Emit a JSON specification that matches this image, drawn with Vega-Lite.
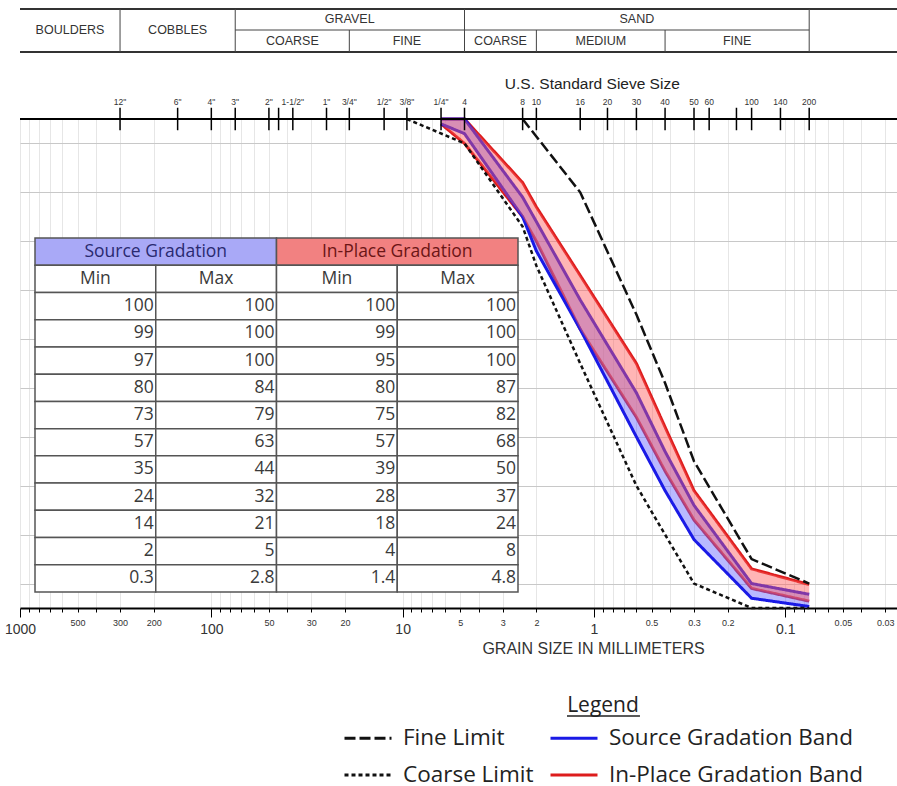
{
  "$schema": "https://vega.github.io/schema/vega-lite/v6.json",
  "width": 877,
  "height": 489,
  "autosize": {"type": "none"},
  "padding": {"left": 20, "top": 119, "right": 0, "bottom": 178},
  "background": "white",
  "config": {"view": {"stroke": null}, "font": "Liberation Sans"},
  "datasets": {
    "sieves": [
      {"sieve": "3/8\"", "mm": 9.5, "srcMin": 100, "srcMax": 100, "ipMin": 100, "ipMax": 100},
      {"sieve": "1/4\"", "mm": 6.3, "srcMin": 99, "srcMax": 100, "ipMin": 99, "ipMax": 100},
      {"sieve": "#4", "mm": 4.75, "srcMin": 97, "srcMax": 100, "ipMin": 95, "ipMax": 100},
      {"sieve": "#8", "mm": 2.36, "srcMin": 80, "srcMax": 84, "ipMin": 80, "ipMax": 87},
      {"sieve": "#10", "mm": 2.0, "srcMin": 73, "srcMax": 79, "ipMin": 75, "ipMax": 82},
      {"sieve": "#16", "mm": 1.18, "srcMin": 57, "srcMax": 63, "ipMin": 57, "ipMax": 68},
      {"sieve": "#30", "mm": 0.6, "srcMin": 35, "srcMax": 44, "ipMin": 39, "ipMax": 50},
      {"sieve": "#40", "mm": 0.425, "srcMin": 24, "srcMax": 32, "ipMin": 28, "ipMax": 37},
      {"sieve": "#50", "mm": 0.3, "srcMin": 14, "srcMax": 21, "ipMin": 18, "ipMax": 24},
      {"sieve": "#100", "mm": 0.15, "srcMin": 2, "srcMax": 5, "ipMin": 4, "ipMax": 8},
      {"sieve": "#200", "mm": 0.075, "srcMin": 0.3, "srcMax": 2.8, "ipMin": 1.4, "ipMax": 4.8}
    ],
    "limits": [
      {"series": "Fine Limit", "mm": 2.36, "pct": 100},
      {"series": "Fine Limit", "mm": 1.18, "pct": 85},
      {"series": "Fine Limit", "mm": 0.6, "pct": 60},
      {"series": "Fine Limit", "mm": 0.425, "pct": 46},
      {"series": "Fine Limit", "mm": 0.3, "pct": 30},
      {"series": "Fine Limit", "mm": 0.15, "pct": 10},
      {"series": "Fine Limit", "mm": 0.075, "pct": 5},
      {"series": "Coarse Limit", "mm": 9.5, "pct": 100},
      {"series": "Coarse Limit", "mm": 4.75, "pct": 95},
      {"series": "Coarse Limit", "mm": 2.36, "pct": 78},
      {"series": "Coarse Limit", "mm": 2.0, "pct": 70},
      {"series": "Coarse Limit", "mm": 1.18, "pct": 50},
      {"series": "Coarse Limit", "mm": 0.6, "pct": 25},
      {"series": "Coarse Limit", "mm": 0.425, "pct": 15},
      {"series": "Coarse Limit", "mm": 0.3, "pct": 5},
      {"series": "Coarse Limit", "mm": 0.15, "pct": 0},
      {"series": "Coarse Limit", "mm": 0.075, "pct": 0}
    ],
    "sieveMarks": [
      {"label": "12\"", "mm": 300}, {"label": "6\"", "mm": 150}, {"label": "4\"", "mm": 100},
      {"label": "3\"", "mm": 75}, {"label": "2\"", "mm": 50}, {"label": "", "mm": 44.5},
      {"label": "1-1/2\"", "mm": 37.5}, {"label": "1\"", "mm": 25}, {"label": "3/4\"", "mm": 19},
      {"label": "1/2\"", "mm": 12.5}, {"label": "3/8\"", "mm": 9.5}, {"label": "1/4\"", "mm": 6.3},
      {"label": "4", "mm": 4.75}, {"label": "8", "mm": 2.36}, {"label": "10", "mm": 2.0},
      {"label": "16", "mm": 1.18}, {"label": "20", "mm": 0.85}, {"label": "30", "mm": 0.6},
      {"label": "40", "mm": 0.425}, {"label": "50", "mm": 0.3}, {"label": "60", "mm": 0.25},
      {"label": "", "mm": 0.18}, {"label": "100", "mm": 0.15}, {"label": "140", "mm": 0.106},
      {"label": "200", "mm": 0.075}
    ]
  },
  "layer": [
    {
      "layer": [
        {
          "data": {"name": "sieves"},
          "transform": [{"filter": "datum.mm < 9"}, {"fold": ["ipMin", "ipMax"], "as": ["bound", "pct"]}],
          "mark": {"type": "line", "strokeWidth": 3},
          "encoding": {
            "x": {
              "field": "mm", "type": "quantitative",
              "scale": {"type": "log", "domain": [1000, 0.02607], "nice": false},
              "axis": {
                "values": [1000, 900, 800, 700, 600, 500, 400, 300, 200, 100, 90, 80, 70, 60, 50, 40, 30, 20, 10, 9, 8, 7, 6, 5, 4, 3, 2, 1, 0.9, 0.8, 0.7, 0.6, 0.5, 0.4, 0.3, 0.2, 0.1, 0.09, 0.08, 0.07, 0.06, 0.05, 0.04, 0.03],
                "labelExpr": "indexof([1000,500,300,200,100,50,30,20,10,5,3,2,1,0.5,0.3,0.2,0.1,0.05,0.03], datum.value) >= 0 ? format(datum.value, '~g') : ''",
                "labelOverlap": false, "labelBound": false, "labelFlush": false,
                "grid": true, "gridColor": "#e6e6e6", "gridWidth": 1,
                "domain": true, "domainColor": "#000000", "domainWidth": 2,
                "ticks": true, "tickColor": "#000000", "tickWidth": 1,
                "tickSize": {"condition": {"test": "indexof([1000,100,10,1,0.1], datum.value) >= 0", "value": 9}, "value": 4},
                "labelFontSize": {"condition": {"test": "indexof([1000,100,10,1,0.1], datum.value) >= 0", "value": 14}, "value": 9},
                "labelPadding": {"condition": {"test": "indexof([1000,100,10,1,0.1], datum.value) >= 0", "value": 5}, "value": 6},
                "labelColor": "#333333", "labelFont": "Liberation Sans",
                "title": "GRAIN SIZE IN MILLIMETERS",
                "titleFont": "Liberation Sans", "titleFontSize": 16, "titleFontWeight": "normal",
                "titleColor": "#333333", "titleX": 573, "titleY": 40, "titleAlign": "center", "titleBaseline": "middle"
              }
            },
            "y": {
              "field": "pct", "type": "quantitative",
              "scale": {"domain": [0, 100], "nice": false, "zero": false},
              "axis": {
                "values": [5, 15, 25, 35, 45, 55, 65, 75, 85, 95],
                "grid": true, "gridColor": "#c8c8c8", "gridWidth": 1,
                "labels": false, "ticks": false, "domain": false, "title": null
              }
            },
            "detail": {"field": "bound"},
            "color": {"datum": "In-Place Gradation Band"},
            "strokeDash": {"datum": "In-Place Gradation Band"}
          }
        },
        {
          "data": {"name": "sieves"},
          "transform": [{"filter": "datum.mm < 9"}],
          "mark": {"type": "area", "color": "#6464ff", "opacity": 0.45},
          "encoding": {
            "x": {"field": "mm", "type": "quantitative"},
            "y": {"field": "srcMin", "type": "quantitative"},
            "y2": {"field": "srcMax"}
          }
        },
        {
          "data": {"name": "sieves"},
          "transform": [{"filter": "datum.mm < 9"}, {"fold": ["srcMin", "srcMax"], "as": ["bound", "pct"]}],
          "mark": {"type": "line", "strokeWidth": 3},
          "encoding": {
            "x": {"field": "mm", "type": "quantitative"},
            "y": {"field": "pct", "type": "quantitative"},
            "detail": {"field": "bound"},
            "color": {"datum": "Source Gradation Band"},
            "strokeDash": {"datum": "Source Gradation Band"}
          }
        },
        {
          "data": {"name": "sieves"},
          "transform": [{"filter": "datum.mm < 9"}],
          "mark": {"type": "area", "color": "#ff5a5a", "opacity": 0.45},
          "encoding": {
            "x": {"field": "mm", "type": "quantitative"},
            "y": {"field": "ipMin", "type": "quantitative"},
            "y2": {"field": "ipMax"}
          }
        },
        {
          "data": {"name": "limits"},
          "mark": {"type": "line", "strokeWidth": 2.5},
          "encoding": {
            "x": {"field": "mm", "type": "quantitative"},
            "y": {"field": "pct", "type": "quantitative"},
            "color": {
              "field": "series", "type": "nominal",
              "scale": {"domain": ["Fine Limit", "Coarse Limit", "Source Gradation Band", "In-Place Gradation Band"], "range": ["#111111", "#111111", "#1a1ae6", "#dd1c1c"]},
              "legend": {
                "orient": "none", "legendX": 323, "legendY": 576, "direction": "vertical", "columns": 2,
                "title": "Legend", "titleAnchor": "middle", "titleFont": "Open Sans", "titleFontSize": 21,
                "titleFontWeight": "normal", "titleColor": "#222222", "titlePadding": -3,
                "labelFont": "Open Sans", "labelFontSize": 22.5, "labelColor": "#222222", "labelLimit": 400,
                "symbolType": "stroke", "symbolSize": 2209, "symbolStrokeWidth": 3,
                "labelOffset": 10, "columnPadding": 10, "rowPadding": -14
              }
            },
            "strokeDash": {
              "field": "series", "type": "nominal",
              "scale": {"domain": ["Fine Limit", "Coarse Limit", "Source Gradation Band", "In-Place Gradation Band"], "range": [[11, 4], [4, 3], [1, 0], [1, 0]]}
            }
          }
        },
        {
          "data": {"values": [{}]},
          "mark": {"type": "rule", "color": "#000000", "strokeWidth": 2},
          "encoding": {"y": {"datum": 100}}
        },
        {
          "data": {"name": "sieveMarks"},
          "mark": {"type": "rule", "color": "#000000", "strokeWidth": 1.5},
          "encoding": {
            "x": {"field": "mm", "type": "quantitative"},
            "y": {"datum": 97.7},
            "y2": {"datum": 102.3}
          }
        },
        {
          "data": {"name": "sieveMarks"},
          "mark": {"type": "text", "fontSize": 8.5, "color": "#333333", "baseline": "middle", "font": "Liberation Sans"},
          "encoding": {
            "x": {"field": "mm", "type": "quantitative"},
            "y": {"datum": 103.5},
            "text": {"field": "label"}
          }
        },
        {
          "data": {"values": [{"t": "U.S. Standard Sieve Size", "mm": 1.02}]},
          "mark": {"type": "text", "fontSize": 15.5, "color": "#222222", "baseline": "middle", "font": "Liberation Sans"},
          "encoding": {
            "x": {"field": "mm", "type": "quantitative"},
            "y": {"datum": 107.2},
            "text": {"field": "t"}
          }
        },
        {
          "data": {"values": [{"y": 122.5}, {"y": 113.7}]},
          "mark": {"type": "rule", "color": "#333333", "strokeWidth": 2},
          "encoding": {"y": {"field": "y", "type": "quantitative"}}
        },
        {
          "data": {"values": [{}]},
          "mark": {"type": "rule", "color": "#444444", "strokeWidth": 1},
          "encoding": {"x": {"datum": 75}, "x2": {"datum": 0.075}, "y": {"datum": 118.2}}
        },
        {
          "data": {"values": [{"mm": 300}, {"mm": 75}, {"mm": 4.75}, {"mm": 0.075}]},
          "mark": {"type": "rule", "color": "#444444", "strokeWidth": 1},
          "encoding": {"x": {"field": "mm", "type": "quantitative"}, "y": {"datum": 113.7}, "y2": {"datum": 122.5}}
        },
        {
          "data": {"values": [{"mm": 19}, {"mm": 2.0}, {"mm": 0.425}]},
          "mark": {"type": "rule", "color": "#444444", "strokeWidth": 1},
          "encoding": {"x": {"field": "mm", "type": "quantitative"}, "y": {"datum": 113.7}, "y2": {"datum": 118.2}}
        },
        {
          "data": {"values": [{"label": "GRAVEL", "mm": 18.9}, {"label": "SAND", "mm": 0.597}]},
          "mark": {"type": "text", "fontSize": 12.5, "color": "#333333", "baseline": "middle", "font": "Liberation Sans"},
          "encoding": {"x": {"field": "mm", "type": "quantitative"}, "y": {"datum": 120.4}, "text": {"field": "label"}}
        },
        {
          "data": {"values": [{"label": "BOULDERS", "mm": 548}, {"label": "COBBLES", "mm": 150}]},
          "mark": {"type": "text", "fontSize": 12.5, "color": "#333333", "baseline": "middle", "font": "Liberation Sans"},
          "encoding": {"x": {"field": "mm", "type": "quantitative"}, "y": {"datum": 118.2}, "text": {"field": "label"}}
        },
        {
          "data": {"values": [{"label": "COARSE", "mm": 37.7}, {"label": "FINE", "mm": 9.5}, {"label": "COARSE", "mm": 3.08}, {"label": "MEDIUM", "mm": 0.92}, {"label": "FINE", "mm": 0.1785}]},
          "mark": {"type": "text", "fontSize": 12.5, "color": "#333333", "baseline": "middle", "font": "Liberation Sans"},
          "encoding": {"x": {"field": "mm", "type": "quantitative"}, "y": {"datum": 115.95}, "text": {"field": "label"}}
        },
        {
          "data": {"values": [{}]},
          "mark": {"type": "rule", "color": "#222222", "strokeWidth": 1.5},
          "encoding": {"x": {"datum": 1.384}, "x2": {"datum": 0.575}, "y": {"datum": -22.1}}
        }
      ]
    },
    {
      "layer": [
        {
          "data": {"values": [
            {"g": "Source Gradation", "c1": "srcMin", "c2": "ipMin", "r": "hdr"},
            {"g": "In-Place Gradation", "c1": "ipMin", "c2": "end", "r": "hdr"}
          ]},
          "mark": {"type": "rect", "stroke": "#555555", "strokeWidth": 1.5},
          "encoding": {
            "x": {"field": "c1", "type": "nominal", "bandPosition": 0,
              "scale": {"type": "band", "domain": ["srcMin", "srcMax", "ipMin", "ipMax", "end", "e2", "e3"], "paddingInner": 0, "paddingOuter": 0.1315, "align": 0.4724},
              "axis": null},
            "x2": {"field": "c2", "bandPosition": 0},
            "y": {"field": "r", "type": "nominal",
              "scale": {"type": "band", "domain": ["d1", "d2", "d3", "d4", "hdr", "sub", "3/8\"", "1/4\"", "#4", "#8", "#10", "#16", "#30", "#40", "#50", "#100", "#200"], "paddingInner": 0, "paddingOuter": 0.479, "align": 0.387},
              "axis": null},
            "fill": {"condition": {"test": "datum.g === 'Source Gradation'", "value": "#a9a9f7"}, "value": "#f28181"}
          }
        },
        {
          "data": {"values": [
            {"g": "Source Gradation", "cm": "srcMax", "r": "hdr"},
            {"g": "In-Place Gradation", "cm": "ipMax", "r": "hdr"}
          ]},
          "mark": {"type": "text", "font": "Open Sans", "fontSize": 17.5, "align": "center", "baseline": "middle"},
          "encoding": {
            "x": {"field": "cm", "type": "nominal", "bandPosition": 0},
            "y": {"field": "r", "type": "nominal", "bandPosition": 0.5},
            "text": {"field": "g"},
            "color": {"condition": {"test": "datum.g === 'Source Gradation'", "value": "#2a2a70"}, "value": "#6b1515"}
          }
        },
        {
          "data": {"values": [
            {"c": "srcMin", "t": "Min", "r": "sub"},
            {"c": "srcMax", "t": "Max", "r": "sub"},
            {"c": "ipMin", "t": "Min", "r": "sub"},
            {"c": "ipMax", "t": "Max", "r": "sub"}
          ]},
          "layer": [
            {
              "mark": {"type": "rect", "fill": "white", "stroke": "#555555", "strokeWidth": 1.5},
              "encoding": {
                "x": {"field": "c", "type": "nominal"},
                "y": {"field": "r", "type": "nominal"}
              }
            },
            {
              "mark": {"type": "text", "font": "Open Sans", "fontSize": 17.5, "align": "center", "baseline": "middle", "color": "#3a3a3a"},
              "encoding": {
                "x": {"field": "c", "type": "nominal", "bandPosition": 0.5},
                "y": {"field": "r", "type": "nominal", "bandPosition": 0.5},
                "text": {"field": "t"}
              }
            }
          ]
        },
        {
          "data": {"name": "sieves"},
          "transform": [{"fold": ["srcMin", "srcMax", "ipMin", "ipMax"], "as": ["col", "val"]}],
          "layer": [
            {
              "mark": {"type": "rect", "fill": "white", "stroke": "#555555", "strokeWidth": 1.5},
              "encoding": {
                "x": {"field": "col", "type": "nominal"},
                "y": {"field": "sieve", "type": "nominal"}
              }
            },
            {
              "mark": {"type": "text", "font": "Open Sans", "fontSize": 17.5, "align": "right", "baseline": "middle", "dx": -2, "color": "#3a3a3a"},
              "encoding": {
                "x": {"field": "col", "type": "nominal", "bandPosition": 1},
                "y": {"field": "sieve", "type": "nominal", "bandPosition": 0.5},
                "text": {"field": "val", "type": "nominal"}
              }
            }
          ]
        }
      ]
    }
  ],
  "resolve": {"scale": {"x": "independent", "y": "independent"}}
}
